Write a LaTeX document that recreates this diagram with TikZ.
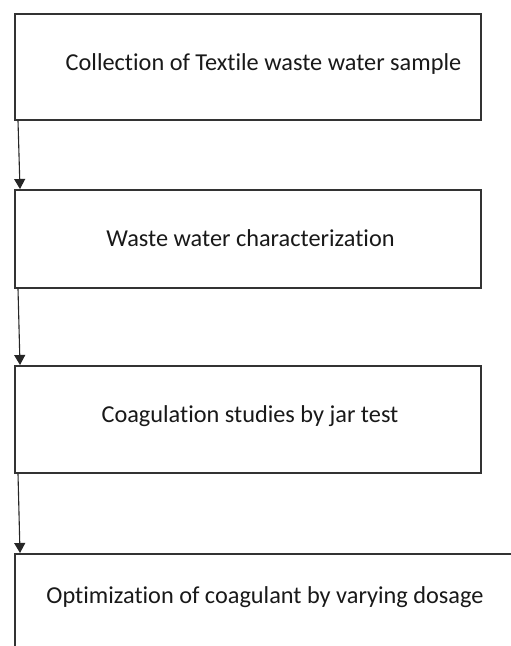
\documentclass[tikz,border=0pt]{standalone}
\usepackage{fontspec}
\setmainfont{Carlito}[RawFeature={-liga}]
\usetikzlibrary{arrows.meta}
\begin{document}
\begin{tikzpicture}[x=1pt,y=-1pt,
  boxstyle/.style={draw=black!80,line width=1.7pt,rectangle,inner sep=0pt,anchor=north west},
  labelstyle/.style={anchor=base,inner sep=0pt,font=\fontsize{24.3}{29}\selectfont,text=black!90},
  flowarrow/.style={draw=black!85,line width=1.1pt,-{Triangle[width=11pt,length=10pt]}}]
\clip (0,0) rectangle (511,646);
\fill[white] (0,0) rectangle (511,646);
\node[boxstyle,minimum width=466pt,minimum height=106pt] (b1) at (14,13) {};
\node[boxstyle,minimum width=466pt,minimum height=98pt] (b2) at (14,189) {};
\node[boxstyle,minimum width=466pt,minimum height=107pt] (b3) at (14,365) {};
\node[boxstyle,minimum width=520pt,minimum height=120pt] (b4) at (14,553) {};
\node[labelstyle] (t1) at (263.5,70) {Collection of Textile waste water sample};
\node[labelstyle] (t2) at (250.5,246) {Waste water characterization};
\node[labelstyle] (t3) at (250,422) {Coagulation studies by jar test};
\node[labelstyle] (t4) at (265,603) {Optimization of coagulant by varying dosage};
\draw[flowarrow] ([xshift=4pt]b1.south west) -- ([xshift=6pt]b2.north west);
\draw[flowarrow] ([xshift=4pt]b2.south west) -- ([xshift=6pt]b3.north west);
\draw[flowarrow] ([xshift=4pt]b3.south west) -- ([xshift=6pt]b4.north west);
\end{tikzpicture}
\end{document}
